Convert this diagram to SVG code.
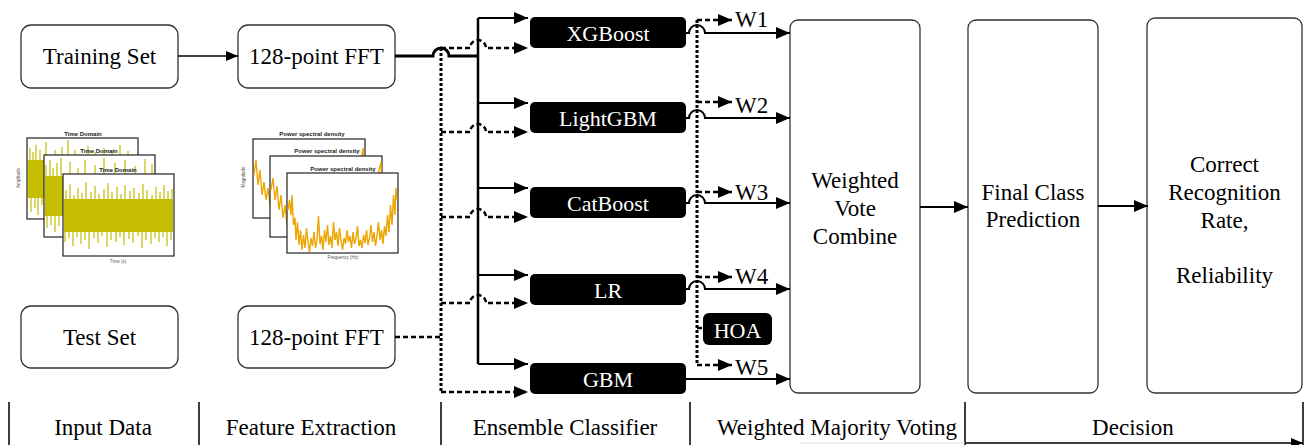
<svg xmlns="http://www.w3.org/2000/svg" width="1308" height="445" viewBox="0 0 1308 445">
<style>
.box{fill:#fff;stroke:#333;stroke-width:1.3}
.cls{fill:#000}
.t{font-family:"Liberation Serif","Times New Roman",serif;font-size:23px;fill:#000;text-anchor:middle}
.tw{font-family:"Liberation Serif","Times New Roman",serif;font-size:22px;fill:#fff;text-anchor:middle}
.ws{font-family:"Liberation Serif","Times New Roman",serif;font-size:23px;fill:#000}
.solid{fill:none;stroke:#000;stroke-width:2}
.dash{fill:none;stroke:#000;stroke-width:2.5;stroke-dasharray:5,3}
.dot{fill:none;stroke:#000;stroke-width:3;stroke-dasharray:3,2}
.frame{fill:#fff;stroke:#222;stroke-width:1.2}
.band{fill:#c4bd00}
.spk{fill:none;stroke:#c4bd00;stroke-width:1.2}
.psd{fill:none;stroke:#eda500;stroke-width:1.4}
.pt{font-family:"Liberation Sans",Arial,sans-serif;font-size:6px;font-weight:bold;fill:#222;text-anchor:middle}
.ax{font-family:"Liberation Sans",Arial,sans-serif;font-size:4.5px;fill:#555;text-anchor:middle}
.sep{stroke:#000;stroke-width:1.5}
</style>
<defs>
<marker id="ah" viewBox="0 0 14 12" refX="14" refY="6" markerWidth="14" markerHeight="12" markerUnits="userSpaceOnUse" orient="auto"><path d="M0,0 L14,6 L0,12 z" fill="#000"/></marker>
<marker id="ahs" viewBox="0 0 12 10" refX="12" refY="5" markerWidth="12" markerHeight="10" markerUnits="userSpaceOnUse" orient="auto"><path d="M0,0 L12,5 L0,10 z" fill="#000"/></marker>
</defs>
<rect width="1308" height="445" fill="#fff"/>

<!-- time domain plots -->
<g id="time-plots">
<rect class="frame" x="27" y="138" width="111" height="81"/>
<rect class="band" x="28" y="160" width="109" height="38"/>
<path class="spk" d="M30,160V148 M33,160V152 M36,160V145 M40,160V150 M46,160V142 M55,160V150 M62,160V147 M68,160V140 M75,160V150 M88,160V146 M95,160V152 M104,160V148 M112,160V150 M120,160V145 M128,160V151 M31,198V212 M35,198V208 M38,198V215 M42,198V205"/>
<text class="pt" x="83" y="136">Time Domain</text>
<text class="ax" x="20" y="178" transform="rotate(-90 20 178)">Amplitude</text>

<rect class="frame" x="44" y="155" width="111" height="82"/>
<rect class="band" x="45" y="176" width="109" height="40"/>
<path class="spk" d="M46,176V165 M50,176V160 M53,176V168 M57,176V163 M61,176V158 M70,176V162 M78,176V168 M85,176V160 M95,176V165 M104,176V158 M115,176V163 M125,176V160 M135,176V166 M145,176V159 M152,176V164 M47,216V228 M51,216V225 M55,216V232 M59,216V226"/>
<text class="pt" x="99" y="153">Time Domain</text>

<rect class="frame" x="63" y="174" width="111" height="82"/>
<rect class="band" x="64" y="199" width="109" height="33"/>
<path class="spk" d="M66,199V190 M70,199V184 M74,199V195 M78,199V188 M82,199V193 M86,199V182 M91,199V192 M95,199V186 M99,199V194 M104,199V189 M108,199V183 M112,199V192 M117,199V187 M121,199V194 M125,199V185 M130,199V191 M134,199V188 M139,199V193 M143,199V184 M147,199V190 M152,199V195 M156,199V187 M160,199V192 M164,199V185 M168,199V191 M172,199V189 M65,232V242 M69,232V238 M73,232V246 M77,232V237 M81,232V244 M85,232V240 M89,232V249 M94,232V238 M98,232V243 M102,232V236 M107,232V247 M111,232V240 M116,232V242 M120,232V237 M124,232V245 M129,232V239 M133,232V243 M138,232V236 M142,232V248 M146,232V240 M151,232V244 M155,232V238 M159,232V242 M163,232V237 M167,232V246 M171,232V240"/>
<text class="pt" x="118" y="172">Time Domain</text>
<text class="ax" x="118" y="263">Time (s)</text>
</g>

<!-- PSD plots -->
<g id="psd-plots">
<rect class="frame" x="253" y="139" width="112" height="79"/>
<path class="psd" d="M254,175 L256,160 L258,185 L260,170 L262,195 L264,182 L266,200 L268,188 L270,205 L275,210"/>
<path class="psd" d="M358,200 L361,160 L363,148 L364,175"/>
<text class="pt" x="312" y="136">Power spectral density</text>
<text class="ax" x="245" y="177" transform="rotate(-90 245 177)">Magnitude</text>

<rect class="frame" x="270" y="156" width="112" height="81"/>
<path class="psd" d="M271,190 L273,178 L275,200 L277,186 L279,210 L281,195 L283,218 L285,205 L287,225 L290,228"/>
<path class="psd" d="M376,210 L379,170 L381,162 L381.5,180"/>
<text class="pt" x="327" y="153">Power spectral density</text>

<rect class="frame" x="287" y="173" width="111" height="80"/>
<path class="psd" d="M288,210 L289.5,200 L291,215 L292,195 L293.5,225 L295,218 L296,240 L297.5,222 L299,245 L300.5,230 L302,250 L303.5,235 L305,248 L306.5,228 L308,242 L309.5,252 L311,238 L312.5,246 L314,232 L315.5,248 L317,240 L318.5,216 L320,244 L321.5,236 L323,250 L324.5,230 L326,242 L327.5,225 L329,245 L330.5,236 L332,248 L333.5,222 L335,240 L336.5,232 L338,246 L339.5,228 L341,240 L342.5,250 L344,238 L345.5,244 L347,230 L348.5,242 L350,236 L351.5,248 L353,232 L354.5,244 L356,238 L357.5,226 L359,246 L360.5,240 L362,248 L363.5,235 L365,243 L366.5,230 L368,245 L369.5,238 L371,225 L372.5,242 L374,232 L375.5,246 L377,236 L378.5,222 L380,240 L381.5,230 L383,244 L384.5,226 L386,236 L387.5,215 L389,232 L390.5,205 L392,225 L393.5,195 L395,215 L396,188 L397,200"/>
<text class="pt" x="343" y="171">Power spectral density</text>
<text class="ax" x="343" y="259">Frequency (Hz)</text>
</g>

<!-- nodes -->
<g id="training-set"><rect class="box" x="21" y="25" width="157" height="63" rx="10"/><text class="t" x="99.5" y="64">Training Set</text></g>
<g id="fft-train"><rect class="box" x="238" y="25" width="157" height="63" rx="10"/><text class="t" x="316.5" y="64">128-point FFT</text></g>
<g id="test-set"><rect class="box" x="21" y="306" width="157" height="62" rx="10"/><text class="t" x="99.5" y="345">Test Set</text></g>
<g id="fft-test"><rect class="box" x="238" y="306" width="157" height="62" rx="10"/><text class="t" x="316.5" y="345">128-point FFT</text></g>

<g id="xgboost"><rect class="cls" x="530" y="17" width="156" height="31" rx="5"/><text class="tw" x="608" y="41">XGBoost</text></g>
<g id="lightgbm"><rect class="cls" x="530" y="102" width="156" height="31" rx="5"/><text class="tw" x="608" y="126">LightGBM</text></g>
<g id="catboost"><rect class="cls" x="530" y="187" width="156" height="31" rx="5"/><text class="tw" x="608" y="211">CatBoost</text></g>
<g id="lr"><rect class="cls" x="530" y="274" width="156" height="31" rx="5"/><text class="tw" x="608" y="298">LR</text></g>
<g id="gbm"><rect class="cls" x="530" y="363" width="156" height="31" rx="5"/><text class="tw" x="608" y="387">GBM</text></g>
<g id="hoa"><rect class="cls" x="703" y="313" width="69" height="32" rx="6"/><text class="tw" x="737.5" y="338">HOA</text></g>

<g id="weighted-vote"><rect class="box" x="790" y="20" width="130" height="373" rx="8"/>
<text class="t" x="855" y="188">Weighted</text><text class="t" x="855" y="216">Vote</text><text class="t" x="855" y="244">Combine</text></g>
<g id="final-class"><rect class="box" x="968" y="20" width="130" height="373" rx="8"/>
<text class="t" x="1033" y="200">Final Class</text><text class="t" x="1033" y="227">Prediction</text></g>
<g id="recognition"><rect class="box" x="1147" y="18" width="155" height="375" rx="8"/>
<text class="t" x="1224.5" y="172">Correct</text><text class="t" x="1224.5" y="200">Recognition</text><text class="t" x="1224.5" y="228">Rate,</text><text class="t" x="1224.5" y="283">Reliability</text></g>

<!-- connectors -->
<g id="connectors">
<path d="M178,56 H238" fill="none" stroke="#000" stroke-width="1.5" marker-end="url(#ahs)"/>
<path d="M395,56 H433 A8,8 0 0 1 449,56 H478" fill="none" stroke="#000" stroke-width="3"/>
<path d="M478,18 V364" fill="none" stroke="#000" stroke-width="2.5"/>
<path class="solid" d="M478,18 H528" marker-end="url(#ah)"/>
<path class="solid" d="M478,103 H528" marker-end="url(#ah)"/>
<path class="solid" d="M478,188 H528" marker-end="url(#ah)"/>
<path class="solid" d="M478,275 H528" marker-end="url(#ah)"/>
<path class="solid" d="M478,364 H528" marker-end="url(#ah)"/>
<path class="dash" d="M395,337 H441"/>
<path class="dot" d="M441,48 V392"/>
<path class="dash" d="M441,48 H470 A8,8 0 0 1 486,48 H528" marker-end="url(#ah)"/>
<path class="dash" d="M441,132 H470 A8,8 0 0 1 486,132 H528" marker-end="url(#ah)"/>
<path class="dash" d="M441,217 H470 A8,8 0 0 1 486,217 H528" marker-end="url(#ah)"/>
<path class="dash" d="M441,303 H470 A8,8 0 0 1 486,303 H528" marker-end="url(#ah)"/>
<path class="dash" d="M441,392 H528" marker-end="url(#ah)"/>

<path class="solid" d="M686,33 H689 A8,8 0 0 1 705,33 H790" marker-end="url(#ah)"/>
<path class="solid" d="M686,118 H689 A8,8 0 0 1 705,118 H790" marker-end="url(#ah)"/>
<path class="solid" d="M686,203 H689 A8,8 0 0 1 705,203 H790" marker-end="url(#ah)"/>
<path class="solid" d="M686,289 H689 A8,8 0 0 1 705,289 H790" marker-end="url(#ah)"/>
<path class="solid" d="M686,379 H790" marker-end="url(#ah)"/>
<path class="dot" d="M697,20 V365"/>
<path class="dash" d="M697,20 H732" marker-end="url(#ah)"/>
<path class="dash" d="M697,102 H732" marker-end="url(#ah)"/>
<path class="dash" d="M697,192 H732" marker-end="url(#ah)"/>
<path class="dash" d="M697,277 H732" marker-end="url(#ah)"/>
<path class="dash" d="M697,365 H732" marker-end="url(#ah)"/>
<path class="dash" d="M697,328 H703"/>
<path class="solid" d="M920,207 H968" marker-end="url(#ah)"/>
<path class="solid" d="M1098,206 H1148" marker-end="url(#ah)"/>
</g>

<g id="weights">
<text class="ws" x="735" y="27">W1</text>
<text class="ws" x="735" y="113">W2</text>
<text class="ws" x="735" y="200">W3</text>
<text class="ws" x="735" y="284">W4</text>
<text class="ws" x="735" y="375">W5</text>
</g>

<!-- stage labels -->
<g id="stages">
<path class="sep" d="M9,402V445 M199,402V445 M441,402V445 M690,402V445 M965,402V445 M1303,402V445"/>
<path d="M800,443 H965" stroke="#ddd" stroke-width="1"/>
<path d="M965,443 H1303" fill="none" stroke="#000" stroke-width="1.5" marker-end="url(#ahs)"/>
<text class="t" x="103" y="435">Input Data</text>
<text class="t" x="311" y="435">Feature Extraction</text>
<text class="t" x="565" y="435">Ensemble Classifier</text>
<text class="t" x="837" y="435">Weighted Majority Voting</text>
<text class="t" x="1133" y="435">Decision</text>
</g>
</svg>
